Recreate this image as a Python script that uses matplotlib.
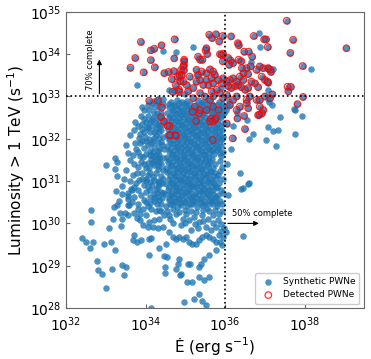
import matplotlib
matplotlib.use("Agg")
import matplotlib.pyplot as plt
import numpy as np

# log10(Edot [erg/s]), log10(L > 1 TeV [1/s])
undetected = [
    # above the 1e33 line
    (34.44, 34.08), (34.76, 34.06), (35.20, 34.18), (33.78, 33.27), (34.58, 33.16), (34.72, 33.16),
    (36.84, 34.50), (36.87, 34.16), (38.16, 33.64), (37.21, 33.66), (36.65, 33.82), (35.30, 33.50),
    (35.00, 33.05), (35.90, 33.20), (37.08, 33.16),
    # right of the 1e36 line
    (37.74, 32.71), (37.76, 32.69), (37.07, 32.94), (37.11, 32.87), (37.19, 32.79), (37.39, 32.51),
    (37.93, 32.53), (37.09, 32.27), (37.21, 32.19), (37.33, 32.20), (37.03, 31.97), (37.75, 32.11),
    (37.28, 31.82), (36.71, 32.12), (36.15, 31.77), (36.04, 31.41), (36.37, 31.18), (36.57, 30.94),
    (36.61, 30.96), (36.45, 30.83), (36.41, 30.82), (36.08, 30.67), (36.02, 29.80), (36.46, 29.70),
    (36.20, 32.30), (36.55, 32.45), (36.30, 32.60), (36.60, 32.00),
    # low-Edot tail
    (32.63, 30.32), (32.62, 30.03), (32.39, 29.65), (32.50, 29.55), (32.59, 29.41), (32.69, 29.55),
    (32.96, 29.51), (33.13, 29.55), (33.24, 29.37), (32.77, 29.10), (32.80, 28.90), (32.90, 28.81),
    (33.16, 28.92), (33.40, 29.02), (33.52, 28.96), (33.47, 28.77), (33.01, 28.48), (33.08, 29.90),
    (33.37, 29.93), (33.18, 30.10), (33.41, 30.11), (33.36, 30.24), (33.27, 30.44), (33.56, 30.65),
    (33.65, 30.79), (33.55, 30.44), (34.13, 28.01), (34.09, 29.25), (34.49, 28.82), (34.48, 28.97),
    (34.33, 29.43), (34.87, 28.78), (34.96, 28.15), (35.03, 28.62), (33.01, 31.38), (33.23, 31.55),
    (33.27, 31.44), (33.24, 31.28), (33.27, 31.12), (33.41, 30.89), (33.26, 30.76), (33.34, 30.52),
    (33.55, 30.57), (33.57, 30.71), (33.51, 31.26), (33.55, 31.67), (33.52, 31.86), (33.73, 31.89),
    (33.84, 32.01), (33.74, 32.40), (33.95, 32.46), (33.91, 32.24), (33.97, 32.68), (34.09, 32.68),
    (34.03, 32.29), (33.21, 30.39),
    # bottom of the cloud
    (35.17, 28.62), (35.35, 28.74), (35.48, 28.66), (35.60, 28.74), (35.21, 28.22), (35.42, 28.16),
    (35.53, 28.08), (35.35, 28.34), (35.77, 29.37), (35.60, 29.25), (35.48, 29.17), (35.39, 29.03),
    (35.35, 28.97), (35.06, 29.05), (35.12, 29.05), (34.85, 29.17), (34.81, 29.05), (34.55, 29.21),
    (34.76, 28.93), (34.89, 28.81), (35.92, 29.48), (35.88, 29.56), (35.94, 29.68), (35.89, 29.82),
    (35.84, 29.72), (35.77, 29.56), (35.69, 29.64), (35.60, 29.68), (35.52, 29.72), (35.43, 29.68),
    (35.35, 29.60), (35.27, 29.52), (35.18, 29.52), (35.10, 29.56), (35.02, 29.68), (34.93, 29.64),
    (34.85, 29.68), (34.76, 29.64), (34.68, 29.68), (34.60, 29.80), (34.51, 29.52), (34.47, 29.23),
    (34.60, 30.19), (34.76, 30.23), (34.93, 30.11), (35.02, 30.23), (35.10, 30.08), (35.23, 30.15),
    (35.35, 30.04), (35.43, 30.19), (35.56, 30.11), (35.69, 30.19), (35.81, 30.08), (35.89, 29.99),
    (35.98, 29.88), (34.89, 29.96), (34.68, 30.00), (35.52, 29.92), (35.31, 29.88), (35.14, 29.84),
    (35.64, 29.84), (35.77, 29.92), (35.85, 30.23),
    (34.55, 30.30), (34.70, 30.33), (34.85, 30.28), (35.00, 30.32), (35.15, 30.30), (35.28, 30.27),
    (35.45, 30.32), (35.60, 30.29), (35.75, 30.32), (35.92, 30.30), (34.62, 30.10), (35.00, 30.02),
    (35.25, 29.98), (35.45, 30.05), (35.70, 30.00),
    (33.55, 30.21), (33.49, 30.25), (33.72, 30.25), (33.78, 30.13), (33.86, 30.07), (33.94, 29.97),
    (34.09, 30.04), (34.22, 30.08), (34.35, 30.11), (34.47, 30.19), (34.18, 29.92), (34.30, 29.88),
    (34.43, 29.92), (34.05, 29.92), (33.72, 29.72), (33.78, 29.56), (33.68, 29.60), (33.88, 29.60),
    (34.08, 29.64), (34.14, 29.66),
    # Edot 33.6 - 34.5
    (33.68, 31.61), (33.80, 31.69), (33.93, 31.57), (34.18, 31.69), (34.26, 31.61), (34.14, 31.53),
    (33.80, 31.34), (34.01, 31.30), (34.22, 31.38), (34.35, 31.45), (34.43, 31.26), (33.68, 31.14),
    (33.84, 31.02), (34.01, 31.06), (34.18, 31.10), (34.30, 30.98), (34.43, 31.06), (33.63, 30.82),
    (33.80, 30.78), (34.01, 30.75), (34.26, 30.82), (34.43, 30.71), (33.59, 30.43), (33.80, 30.47),
    (34.01, 30.51), (34.22, 30.59), (34.39, 30.47), (33.93, 30.35), (34.14, 30.35), (34.35, 30.31),
    (34.35, 32.16), (34.26, 32.24), (34.39, 32.32), (34.47, 32.40), (34.22, 32.01), (34.39, 31.93),
    (34.47, 31.77), (34.35, 31.77), (34.01, 31.94), (34.14, 31.89), (34.05, 31.85),
    (34.05, 32.55), (34.20, 32.62), (34.32, 32.48), (34.12, 32.40), (34.25, 32.08), (34.10, 32.15),
    (33.98, 32.05), (34.40, 32.60), (34.30, 32.85), (34.45, 32.95), (34.20, 32.90), (34.10, 31.70),
    (33.96, 31.78), (34.28, 31.50), (34.05, 31.42), (33.88, 31.45), (34.40, 31.12), (34.12, 31.20),
    (33.92, 31.18), (33.75, 30.95), (33.95, 30.90), (34.15, 30.90), (34.32, 30.85), (34.10, 30.62),
    (33.70, 30.62), (34.42, 30.60), (34.28, 30.45), (33.85, 30.22), (34.02, 30.20), (34.40, 30.30),
    (33.62, 31.00), (33.70, 31.40), (33.45, 31.05), (33.40, 30.70),
    (33.60, 32.10), (33.70, 32.20), (33.82, 32.30), (33.88, 32.55), (34.00, 32.40), (34.15, 32.30),
    (34.30, 32.35), (34.18, 32.50), (33.85, 32.12), (34.08, 32.00), (34.30, 31.90), (34.20, 31.80),
    (33.90, 31.95), (33.75, 31.75), (33.60, 31.50), (33.85, 31.60), (34.00, 31.65), (34.18, 31.60),
    (34.35, 31.62), (33.95, 31.40), (34.15, 31.42), (34.30, 31.35), (33.78, 31.20), (34.05, 31.15),
    (34.25, 31.20), (33.90, 31.05), (34.10, 30.98), (34.35, 31.00), (33.72, 30.85), (33.88, 30.68),
    (34.05, 30.85), (34.20, 30.70), (34.32, 30.62), (33.65, 30.50), (33.95, 30.55), (34.12, 30.48),
    (34.25, 30.30), (34.05, 30.40), (33.82, 30.35), (34.38, 30.75), (34.42, 30.95), (34.40, 31.40),
    (34.44, 31.55), (34.42, 31.85), (34.44, 32.05), (34.40, 32.20), (34.42, 32.50), (34.35, 32.75),
    (34.45, 32.82),
    (34.20, 32.75), (34.28, 32.60), (34.15, 32.45), (34.33, 32.28), (34.22, 32.15), (34.35, 32.02),
    (34.18, 31.95), (34.30, 31.72), (34.12, 31.62), (34.33, 31.55), (34.22, 31.48), (34.08, 31.30),
    (34.30, 31.28), (34.20, 31.02), (34.35, 30.92), (34.12, 30.80), (34.28, 30.72), (34.20, 30.52),
    (34.35, 30.55), (34.00, 31.00), (33.85, 31.90), (33.95, 32.15), (34.05, 32.25), (33.92, 32.35),
    (34.25, 32.38), (34.15, 32.85), (34.05, 32.80), (33.90, 32.75), (34.32, 32.95),
    # dense core
    (34.52, 30.40), (34.66, 30.45), (34.79, 30.38), (34.90, 30.44), (35.04, 30.41), (35.17, 30.46),
    (35.29, 30.39), (35.41, 30.43), (35.55, 30.37), (35.68, 30.45), (35.80, 30.40), (35.93, 30.47),
    (34.61, 30.47), (34.73, 30.51), (34.86, 30.48), (35.00, 30.50), (35.12, 30.47),
    (35.27, 30.50), (35.39, 30.48), (35.53, 30.46), (35.65, 30.51), (35.79, 30.48),
    (34.58, 30.56), (34.71, 30.53), (34.85, 30.58), (34.97, 30.52), (35.10, 30.57), (35.23, 30.54),
    (35.36, 30.58), (35.49, 30.51), (35.61, 30.56), (35.74, 30.55), (35.86, 30.52),
    (34.58, 30.60), (34.72, 30.63), (34.84, 30.61), (34.98, 30.64), (35.14, 30.60),
    (35.25, 30.62), (35.39, 30.59), (35.52, 30.63), (35.66, 30.61), (35.78, 30.63),
    (34.50, 30.69), (34.64, 30.66), (34.77, 30.70), (34.92, 30.67), (35.05, 30.71), (35.19, 30.65),
    (35.31, 30.69), (35.44, 30.72), (35.57, 30.66), (35.70, 30.70), (35.83, 30.67), (35.95, 30.71),
    (34.63, 30.73), (34.76, 30.76), (34.88, 30.74), (35.02, 30.77), (35.15, 30.73),
    (35.28, 30.75), (35.41, 30.77), (35.55, 30.72), (35.68, 30.76),
    (34.56, 30.80), (34.70, 30.84), (34.82, 30.79), (34.95, 30.83), (35.08, 30.80), (35.22, 30.85),
    (35.34, 30.78), (35.47, 30.82), (35.60, 30.80), (35.76, 30.84), (35.90, 30.79),
    (34.60, 30.86), (34.74, 30.89), (34.87, 30.87), (35.01, 30.90), (35.13, 30.86),
    (35.27, 30.88), (35.40, 30.89), (35.54, 30.86), (35.66, 30.89), (35.80, 30.87),
    (34.52, 30.93), (34.66, 30.96), (34.79, 30.92), (34.93, 30.97), (35.06, 30.94), (35.18, 30.91),
    (35.31, 30.96), (35.45, 30.93), (35.58, 30.97), (35.72, 30.92), (35.85, 30.95),
    (34.63, 30.99), (34.76, 31.02), (34.90, 31.00), (35.03, 31.01), (35.17, 30.99),
    (35.30, 31.02), (35.43, 31.00), (35.57, 31.01), (35.70, 30.99),
    (34.59, 31.06), (34.73, 31.09), (34.86, 31.05), (34.99, 31.08), (35.12, 31.04), (35.25, 31.09),
    (35.38, 31.06), (35.52, 31.10), (35.65, 31.05), (35.79, 31.08), (35.94, 31.04),
    (34.61, 31.12), (34.74, 31.15), (34.88, 31.13), (35.02, 31.15), (35.15, 31.12),
    (35.28, 31.14), (35.42, 31.13), (35.55, 31.15), (35.69, 31.12), (35.82, 31.14),
    (34.54, 31.21), (34.68, 31.18), (34.81, 31.22), (34.95, 31.19), (35.08, 31.23), (35.21, 31.18),
    (35.34, 31.21), (35.48, 31.17), (35.61, 31.22), (35.75, 31.19), (35.88, 31.23),
    (34.59, 31.25), (34.73, 31.28), (34.86, 31.26), (34.99, 31.27), (35.13, 31.25),
    (35.27, 31.28), (35.39, 31.26), (35.51, 31.27), (35.64, 31.25),
    (34.51, 31.32), (34.64, 31.35), (34.78, 31.31), (34.91, 31.34), (35.04, 31.30), (35.17, 31.36),
    (35.30, 31.33), (35.43, 31.30), (35.57, 31.35), (35.70, 31.31), (35.93, 31.34),
    (34.63, 31.38), (34.77, 31.41), (34.90, 31.39), (35.04, 31.40), (35.17, 31.38),
    (35.30, 31.41), (35.44, 31.39), (35.57, 31.40), (35.74, 31.41),
    (34.57, 31.45), (34.70, 31.48), (34.84, 31.44), (34.97, 31.47), (35.10, 31.43), (35.24, 31.49),
    (35.37, 31.45), (35.50, 31.48), (35.63, 31.44), (35.86, 31.47),
    (34.60, 31.51), (34.73, 31.54), (34.87, 31.52), (35.00, 31.53), (35.14, 31.51),
    (35.27, 31.54), (35.40, 31.52), (35.53, 31.53), (35.68, 31.52),
    (34.53, 31.58), (34.67, 31.61), (34.80, 31.57), (34.93, 31.60), (35.06, 31.56), (35.20, 31.62),
    (35.33, 31.58), (35.46, 31.61), (35.59, 31.57), (35.90, 31.60),
    (34.66, 31.64), (34.80, 31.67), (34.94, 31.65), (35.07, 31.66), (35.20, 31.64),
    (35.34, 31.67), (35.47, 31.65), (35.60, 31.66), (35.73, 31.64), (35.87, 31.66),
    (34.60, 31.71), (34.73, 31.74), (34.87, 31.70), (35.00, 31.73), (35.13, 31.69), (35.27, 31.75),
    (35.40, 31.71), (35.53, 31.74), (35.66, 31.70), (35.80, 31.73), (35.95, 31.69),
    (34.62, 31.77), (34.76, 31.80), (34.89, 31.78), (35.03, 31.79), (35.16, 31.77),
    (35.29, 31.80), (35.43, 31.78), (35.56, 31.79), (35.69, 31.77), (35.83, 31.79),
    (34.55, 31.84), (34.69, 31.87), (34.82, 31.83), (34.96, 31.86), (35.09, 31.82), (35.22, 31.88),
    (35.35, 31.84), (35.49, 31.87), (35.62, 31.83), (35.76, 31.86), (35.89, 31.84),
    (34.65, 31.90), (34.78, 31.93), (34.92, 31.91), (35.05, 31.92), (35.19, 31.90),
    (35.33, 31.93), (35.46, 31.91), (35.59, 31.92), (35.73, 31.90), (35.86, 31.92),
    (34.58, 31.97), (34.72, 32.00), (34.85, 31.96), (34.99, 31.99), (35.12, 31.95), (35.26, 32.01),
    (35.39, 31.97), (35.52, 32.00), (35.80, 31.96), (35.93, 31.99),
    (34.60, 32.03), (34.73, 32.06), (34.87, 32.04), (35.00, 32.05), (35.14, 32.03),
    (35.27, 32.06), (35.40, 32.04), (35.54, 32.05), (35.67, 32.03), (35.81, 32.05), (35.94, 32.04),
    (34.53, 32.10), (34.66, 32.13), (34.80, 32.09), (34.93, 32.12), (35.07, 32.08), (35.20, 32.14),
    (35.33, 32.10), (35.47, 32.13), (35.60, 32.09), (35.74, 32.12), (35.87, 32.10),
    (34.64, 32.16), (34.78, 32.19), (34.91, 32.17), (35.04, 32.18), (35.18, 32.16),
    (35.31, 32.19), (35.45, 32.17), (35.58, 32.18), (35.71, 32.16), (35.85, 32.18),
    (34.57, 32.23), (34.71, 32.26), (34.84, 32.22), (34.98, 32.25), (35.11, 32.21), (35.25, 32.27),
    (35.38, 32.23), (35.51, 32.26), (35.64, 32.22), (35.78, 32.25), (35.92, 32.21),
    (34.68, 32.29), (34.82, 32.32), (34.95, 32.30), (35.09, 32.31), (35.22, 32.29),
    (35.35, 32.32), (35.49, 32.30), (35.62, 32.31), (35.76, 32.29), (35.90, 32.31),
    (34.62, 32.36), (34.75, 32.39), (34.89, 32.35), (35.02, 32.38), (35.16, 32.34), (35.29, 32.40),
    (35.42, 32.36), (35.56, 32.39), (35.83, 32.35), (35.96, 32.38),
    (34.64, 32.42), (34.77, 32.45), (34.90, 32.43), (35.04, 32.44), (35.17, 32.42),
    (35.30, 32.45), (35.44, 32.43), (35.57, 32.44), (35.70, 32.42), (35.83, 32.44),
    (34.58, 32.49), (34.70, 32.52), (34.83, 32.48), (34.97, 32.51), (35.10, 32.47), (35.24, 32.53),
    (35.37, 32.49), (35.50, 32.52), (35.63, 32.48), (35.89, 32.51),
    (34.62, 32.55), (34.76, 32.58), (34.89, 32.56), (35.02, 32.57), (35.16, 32.55),
    (35.30, 32.58), (35.43, 32.56), (35.66, 32.57), (35.79, 32.55), (35.92, 32.57),
    (34.55, 32.62), (34.68, 32.65), (34.82, 32.61), (34.95, 32.64), (35.09, 32.60), (35.22, 32.66),
    (35.46, 32.62), (35.59, 32.65), (35.72, 32.61), (35.85, 32.64), (35.98, 32.60),
    (34.67, 32.68), (34.81, 32.71), (34.94, 32.69), (35.07, 32.70), (35.21, 32.68),
    (35.34, 32.71), (35.48, 32.69), (35.61, 32.70), (35.74, 32.68), (35.88, 32.70), (36.01, 32.69),
    (34.60, 32.75), (34.74, 32.78), (34.87, 32.74), (35.01, 32.77), (35.14, 32.73), (35.40, 32.79),
    (35.54, 32.75), (35.67, 32.78), (35.94, 32.74), (36.07, 32.77),
    (34.58, 32.83), (34.72, 32.81), (34.85, 32.84), (34.99, 32.82), (35.12, 32.83), (35.26, 32.81),
    (35.39, 32.84), (35.52, 32.82), (35.66, 32.83), (35.79, 32.81), (35.93, 32.83),
    (34.65, 32.88), (34.78, 32.91), (34.92, 32.87), (35.05, 32.90), (35.32, 32.92), (35.45, 32.88),
    (35.58, 32.91), (35.85, 32.87), (36.10, 32.90),
]

detected = [
    (33.88, 34.29), (34.73, 34.35), (34.40, 34.21), (34.22, 34.13), (34.13, 34.09), (33.74, 33.91),
    (33.62, 33.68), (33.95, 33.57), (34.13, 33.86), (34.23, 33.69), (34.47, 33.55), (34.72, 33.90),
    (34.71, 33.60), (34.66, 33.41), (34.81, 33.46), (34.87, 33.36), (34.84, 33.16), (34.96, 33.62),
    (34.96, 33.74), (34.97, 33.87), (34.09, 32.90), (34.31, 32.90), (34.41, 32.74), (34.39, 32.51),
    (34.46, 32.41), (34.55, 32.31), (34.61, 32.09), (34.75, 32.09),
    (34.58, 33.58), (34.76, 33.27), (34.85, 33.50), (34.85, 33.11), (34.68, 33.11),
    (35.60, 34.46), (35.67, 34.38), (35.77, 34.47), (35.94, 34.43), (36.15, 34.42), (35.85, 34.30),
    (36.32, 34.26), (36.34, 34.21), (36.48, 34.06), (36.59, 34.06), (36.68, 33.94), (36.98, 34.35),
    (36.72, 34.43), (35.53, 34.14), (35.51, 34.09), (35.55, 34.00), (35.32, 33.94), (35.37, 33.87),
    (35.43, 33.87), (34.97, 33.83), (34.95, 33.71), (34.89, 33.63), (34.91, 33.51),
    (35.91, 33.98), (35.87, 34.00), (35.95, 34.01), (35.94, 33.83), (36.08, 33.91), (36.14, 33.85),
    (36.34, 33.87), (36.41, 33.83), (36.10, 33.75), (36.20, 33.79), (36.42, 33.67), (36.54, 33.67),
    (36.64, 33.71), (36.46, 33.55), (36.58, 33.53), (36.79, 33.63), (36.87, 33.71), (36.96, 33.67),
    (37.08, 33.67), (37.14, 33.63), (36.92, 33.47), (37.00, 33.39), (37.08, 33.33), (36.66, 33.35),
    (36.75, 33.31), (36.83, 33.22),
    (35.28, 33.63), (35.41, 33.59), (35.32, 33.51), (35.53, 33.55), (35.62, 33.64), (35.70, 33.59),
    (35.74, 33.51), (35.66, 33.43), (35.53, 33.39), (35.37, 33.39), (35.28, 33.35), (35.45, 33.27),
    (35.58, 33.27), (35.70, 33.31), (35.83, 33.39), (35.95, 33.43), (35.91, 33.31), (36.04, 33.35),
    (36.12, 33.39), (36.20, 33.43), (36.29, 33.35), (36.08, 33.24), (36.16, 33.20), (36.25, 33.24),
    (36.33, 33.27), (36.41, 33.22), (36.50, 33.16), (36.58, 33.20), (36.46, 33.39), (36.37, 33.47),
    (35.11, 33.47), (35.03, 33.27), (34.95, 33.35), (35.20, 33.20), (35.07, 33.12), (35.79, 33.16),
    (35.87, 33.08), (35.66, 33.12), (35.37, 33.08), (35.49, 33.00), (35.20, 32.96), (35.62, 32.92),
    (35.70, 33.00), (35.95, 32.96), (36.04, 33.04), (36.20, 32.92), (36.29, 33.00), (36.54, 32.92),
    (36.62, 33.00), (36.79, 32.92), (36.87, 32.92), (37.00, 33.00), (37.13, 32.96),
    (35.24, 32.76), (35.37, 32.68), (35.53, 32.68), (35.70, 32.76), (35.83, 32.68), (36.12, 32.80),
    (36.29, 32.68), (36.37, 32.76), (36.54, 32.84), (36.58, 32.72), (36.87, 32.76), (36.96, 32.68),
    (36.92, 32.60), (36.83, 32.56), (35.74, 32.45), (35.18, 32.64), (35.35, 32.60), (35.64, 32.48),
    (35.77, 32.49), (35.69, 32.40), (35.27, 32.42), (34.60, 32.30), (34.61, 32.08), (34.76, 32.07),
    (35.69, 31.97), (36.19, 32.01), (36.31, 32.48), (36.48, 32.54), (36.86, 32.57), (36.50, 32.23),
    (36.04, 32.36), (35.62, 32.41),
    (37.55, 34.79), (37.71, 34.34), (39.05, 34.14), (37.64, 34.03), (37.07, 34.17), (37.03, 34.35),
    (37.95, 33.72), (37.09, 33.66), (37.15, 33.58), (37.07, 33.35), (37.57, 33.23), (37.65, 33.23),
    (37.59, 33.12), (37.19, 33.05), (37.96, 32.99), (37.82, 32.82),
]

x_ticks = [1e32, 1e34, 1e36, 1e38]
y_ticks = [1e28, 1e29, 1e30, 1e31, 1e32, 1e33, 1e34, 1e35]

synthetic = undetected + detected
syn_e = 10 ** np.array([p[0] for p in synthetic])
syn_l = 10 ** np.array([p[1] for p in synthetic])
det_e = 10 ** np.array([p[0] for p in detected])
det_l = 10 ** np.array([p[1] for p in detected])

fig = plt.figure(figsize=(3.71, 3.59), dpi=100)
ax = fig.add_axes([0.178, 0.142, 0.803, 0.825])

ax.scatter(syn_e, syn_l, s=22, color="#1f77b4", alpha=0.8, linewidths=0,
           label="Synthetic PWNe", zorder=2)
ax.scatter(det_e, det_l, s=22, facecolors="none", edgecolors="red", alpha=0.8,
           linewidths=0.9, label="Detected PWNe", zorder=3)

ax.axhline(1e33, color="k", ls=":", lw=1.2, zorder=4)
ax.axvline(1e36, color="k", ls=":", lw=1.2, zorder=4)

# completeness arrows
ax.annotate("", xy=(6.9e32, 8.7e33), xytext=(6.9e32, 1e33),
            arrowprops=dict(arrowstyle="-|>", color="k", lw=0.8, mutation_scale=7))
ax.text(4.2e32, 1.45e33, "70% complete", rotation=90, fontsize=6,
        ha="center", va="bottom")
ax.annotate("", xy=(8.3e36, 1e30), xytext=(1e36, 1e30),
            arrowprops=dict(arrowstyle="-|>", color="k", lw=0.8, mutation_scale=7))
ax.text(1.5e36, 1.35e30, "50% complete", fontsize=6, ha="left", va="bottom")

ax.set_xscale("log")
ax.set_yscale("log")
ax.set_xlim(1e32, 3.1e39)
ax.set_ylim(1e28, 1e35)
ax.set_xticks(x_ticks)
ax.set_yticks(y_ticks)
ax.minorticks_off()
ax.tick_params(direction="in", length=3, labelsize=10, color="0.4")
ax.tick_params(axis="x", pad=5)
for sp in ax.spines.values():
    sp.set_color("0.4")

ax.set_xlabel("Ė (erg s$^{-1}$)", fontsize=11, labelpad=1)
ax.set_ylabel("Luminosity > 1 TeV (s$^{-1}$)", fontsize=11, labelpad=2)

ax.legend(loc="lower right", fontsize=6.5, framealpha=1, handletextpad=0.6,
          borderpad=0.45, labelspacing=0.45)

fig.savefig("out.png", dpi=100)
